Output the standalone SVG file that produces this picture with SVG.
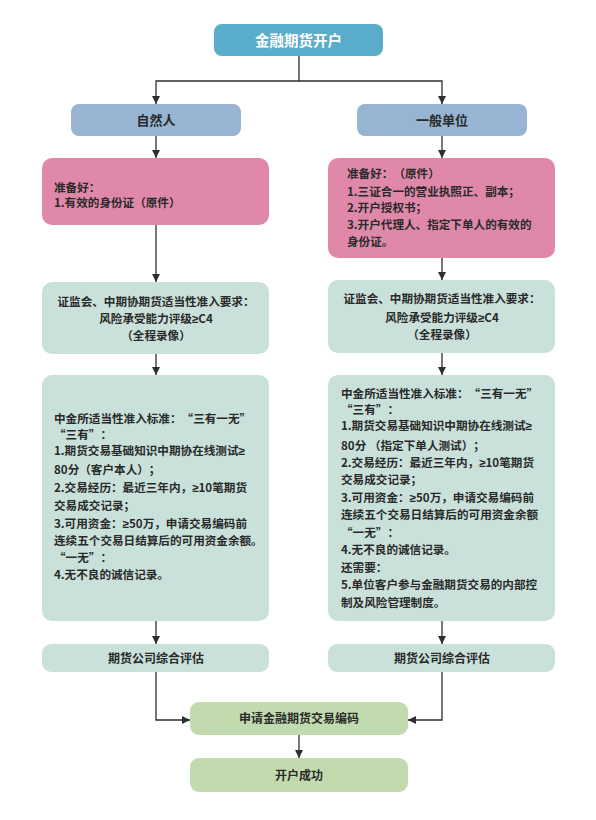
<svg xmlns="http://www.w3.org/2000/svg" width="596" height="820" viewBox="0 0 596 820">
<style>
text{font-family:"Noto Sans CJK SC","Noto Sans",sans-serif;font-weight:700;fill:#2a2a2a;font-size:11.6px;text-spacing-trim:space-all}
.c{text-anchor:middle}
.lt{font-family:"Noto Sans",sans-serif}
.lab{font-size:12px}
.title{font-size:14.5px;fill:#ffffff}
.top{fill:#5aaccb}
.blue{fill:#97b4d3}
.pink{fill:#e088a9}
.gray{fill:#c9e1da}
.lg{fill:#c1dbae}
.conn path{fill:none;stroke:#2e2e2e;stroke-width:1.3}
</style>
<defs>
<marker id="ah" markerUnits="userSpaceOnUse" markerWidth="9" markerHeight="8" refX="8" refY="4" orient="auto">
<path d="M0,0 L8,4 L0,8 z" fill="#2e2e2e"/>
</marker>
</defs>
<rect width="596" height="820" fill="#ffffff"/>
<g class="conn">
<path d="M299 56 V81 H156 V104" marker-end="url(#ah)"/>
<path d="M299 81 H442 V104" marker-end="url(#ah)"/>
<path d="M156 136 V158" marker-end="url(#ah)"/>
<path d="M442 136 V158" marker-end="url(#ah)"/>
<path d="M156 225 V282" marker-end="url(#ah)"/>
<path d="M442 258 V280" marker-end="url(#ah)"/>
<path d="M156 354 V375" marker-end="url(#ah)"/>
<path d="M442 353 V375" marker-end="url(#ah)"/>
<path d="M156 621 V644" marker-end="url(#ah)"/>
<path d="M442 621 V644" marker-end="url(#ah)"/>
<path d="M156 672 V720 H190" marker-end="url(#ah)"/>
<path d="M442 672 V720 H408" marker-end="url(#ah)"/>
<path d="M299 735 V758" marker-end="url(#ah)"/>
</g>
<g id="n-root">
<rect class="top" x="214" y="24" width="169" height="32" rx="8"/>
<text class="title c" x="298.5" y="45.5">金融期货开户</text>
</g>
<g id="n-person">
<rect class="blue" x="71" y="104" width="170" height="32" rx="8"/>
<text class="lab c" x="156" y="124.5" style="font-size:13px">自然人</text>
</g>
<g id="n-org">
<rect class="blue" x="357" y="104" width="170" height="32" rx="8"/>
<text class="lab c" x="442" y="124.5" style="font-size:13px">一般单位</text>
</g>
<g id="n-prep-left">
<rect class="pink" x="42" y="158" width="227" height="67" rx="10"/>
<text x="54" y="191.5">准备好：</text>
<text x="54" y="206.5">1.有效的身份证（原件）</text>
</g>
<g id="n-prep-right">
<rect class="pink" x="328" y="158" width="227" height="100" rx="10"/>
<text x="347" y="177.5">准备好：（原件）</text>
<text x="347" y="195.5">1.三证合一的营业执照正、副本；</text>
<text x="347" y="211.5">2.开户授权书；</text>
<text x="347" y="228.5">3.开户代理人、指定下单人的有效的</text>
<text x="347" y="245.5">身份证。</text>
</g>
<g id="n-req-left">
<rect class="gray" x="42" y="282" width="227" height="72" rx="10"/>
<text class="c" x="156" y="305.5">证监会、中期协期货适当性准入要求：</text>
<text class="c" x="156" y="322.5">风险承受能力评级<tspan class="lt">≥</tspan>C4</text>
<text class="c" x="156" y="339.5">（全程录像）</text>
</g>
<g id="n-req-right">
<rect class="gray" x="328" y="280" width="227" height="73" rx="10"/>
<text class="c" x="442" y="302.5">证监会、中期协期货适当性准入要求：</text>
<text class="c" x="442" y="321.5">风险承受能力评级<tspan class="lt">≥</tspan>C4</text>
<text class="c" x="442" y="338.5">（全程录像）</text>
</g>
<g id="n-std-left">
<rect class="gray" x="42" y="375" width="227" height="246" rx="10"/>
<text x="54" y="422.5">中金所适当性准入标准：“三有一无”</text>
<text x="54" y="438.5">“三有”：</text>
<text x="54" y="454.5">1.期货交易基础知识中期协在线测试<tspan class="lt">≥</tspan></text>
<text x="54" y="473.5">80分（客户本人）；</text>
<text x="54" y="491.5">2.交易经历：最近三年内，<tspan class="lt">≥</tspan>10笔期货</text>
<text x="54" y="509.5">交易成交记录；</text>
<text x="54" y="527.5">3.可用资金：<tspan class="lt">≥</tspan>50万，申请交易编码前</text>
<text x="54" y="544.5">连续五个交易日结算后的可用资金余额。</text>
<text x="54" y="561.5">“一无”：</text>
<text x="54" y="578.5">4.无不良的诚信记录。</text>
</g>
<g id="n-std-right">
<rect class="gray" x="328" y="375" width="227" height="246" rx="10"/>
<text x="341" y="397.5">中金所适当性准入标准：“三有一无”</text>
<text x="341" y="413.5">“三有”：</text>
<text x="341" y="429.5">1.期货交易基础知识中期协在线测试<tspan class="lt">≥</tspan></text>
<text x="341" y="449.5">80分 （指定下单人测试）；</text>
<text x="341" y="466.5">2.交易经历：最近三年内，<tspan class="lt">≥</tspan>10笔期货</text>
<text x="341" y="483.5">交易成交记录；</text>
<text x="341" y="501.5">3.可用资金：<tspan class="lt">≥</tspan>50万，申请交易编码前</text>
<text x="341" y="518.5">连续五个交易日结算后的可用资金余额</text>
<text x="341" y="536.5">“一无”：</text>
<text x="341" y="553.5">4.无不良的诚信记录。</text>
<text x="341" y="571.5">还需要：</text>
<text x="341" y="588.5">5.单位客户参与金融期货交易的内部控</text>
<text x="341" y="606.5">制及风险管理制度。</text>
</g>
<g id="n-eval-left">
<rect class="gray" x="42" y="644" width="227" height="28" rx="9"/>
<text class="lab c" x="156" y="662.5">期货公司综合评估</text>
</g>
<g id="n-eval-right">
<rect class="gray" x="328" y="644" width="227" height="28" rx="9"/>
<text class="lab c" x="442" y="662.5">期货公司综合评估</text>
</g>
<g id="n-apply">
<rect class="lg" x="190" y="702" width="218" height="33" rx="9"/>
<text class="lab c" x="299" y="723">申请金融期货交易编码</text>
</g>
<g id="n-done">
<rect class="lg" x="190" y="758" width="218" height="34" rx="9"/>
<text class="lab c" x="299" y="779.5">开户成功</text>
</g>
</svg>
